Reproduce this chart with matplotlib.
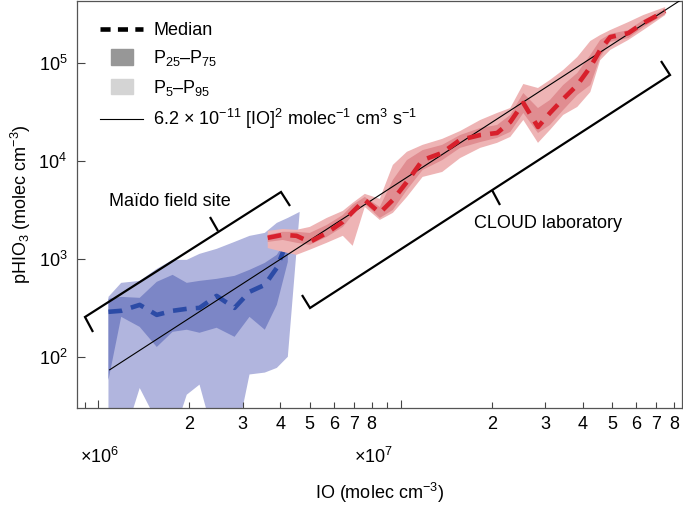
import numpy as np
import matplotlib
matplotlib.use("Agg")
import matplotlib.pyplot as plt
import matplotlib.patches as mpatches
from matplotlib.lines import Line2D
from matplotlib.legend_handler import HandlerPatch

plt.rcParams['font.family'] = ['Liberation Sans', 'DejaVu Sans']
plt.rcParams['mathtext.fontset'] = 'custom'
plt.rcParams['mathtext.rm'] = 'Liberation Sans'
plt.rcParams['mathtext.it'] = 'Liberation Sans:italic'
plt.rcParams['mathtext.bf'] = 'Liberation Sans:bold'
plt.rcParams['font.size'] = 13

# Maido field site (IO in molec cm-3, pHIO3 in molec cm-3 s-1)
io_maido = [1.08e6, 1.19e6, 1.37e6, 1.56e6, 1.76e6, 1.96e6, 2.16e6,
            2.46e6, 2.82e6, 3.16e6, 3.55e6, 3.89e6, 4.23e6, 4.63e6]
maido_med = [288, 295, 339, 268, 295, 309, 316, 419, 316, 461, 543, 810, 1563]
maido_p25 = [58, 256, 202, 126, 180, 189, 176, 198, 160, 256, 189, 339, 932]
maido_p75 = [391, 409, 400, 583, 687, 569, 596, 625, 671, 772, 910, 1099, 1638]
maido_p5 = [12, 12, 48, 22, 15, 41, 52, 12, 12, 66, 69, 77, 100]
maido_p95 = [409, 569, 596, 791, 977, 977, 1125, 1265, 1491, 1717, 1842,
             2330, 2620, 3018]

# CLOUD chamber
io_cloud = [3.63e6, 4.07e6, 4.52e6, 5.00e6, 5.69e6, 6.43e6, 6.93e6, 7.60e6,
            8.52e6, 9.41e6, 1.047e7, 1.18e7, 1.37e7, 1.57e7, 1.83e7, 2.08e7,
            2.30e7, 2.54e7, 2.84e7, 3.11e7, 3.44e7, 3.83e7, 4.23e7, 4.56e7,
            4.92e7, 5.65e7, 6.33e7, 7.48e7]
cloud_med = [1.64e3, 1.76e3, 1.72e3, 1.49e3, 1.84e3, 2.39e3, 3.02e3, 4.00e3,
             2.95e3, 4.00e3, 6.11e3, 1.02e4, 1.21e4, 1.64e4, 1.84e4, 1.93e4,
             2.50e4, 3.91e4, 2.22e4, 3.09e4, 4.29e4, 5.96e4, 9.10e4, 1.36e5,
             1.84e5, 2.02e5, 2.56e5, 3.39e5]
cloud_p5 = [1.29e3, 1.18e3, 1.10e3, 1.24e3, 1.46e3, 1.72e3, 1.36e3, 3.39e3,
            2.50e3, 2.95e3, 4.29e3, 6.87e3, 7.72e3, 1.07e4, 1.36e4, 1.53e4,
            1.76e4, 2.62e4, 1.53e4, 2.07e4, 2.95e4, 3.56e4, 5.06e4, 1.07e5,
            1.36e5, 1.72e5, 2.17e5, 3.09e5]
cloud_p25 = [1.49e3, 1.56e3, 1.46e3, 1.39e3, 1.68e3, 2.12e3, 2.81e3, 3.64e3,
             2.62e3, 3.16e3, 5.06e3, 8.09e3, 1.02e4, 1.36e4, 1.56e4, 1.72e4,
             1.98e4, 3.09e4, 1.93e4, 2.33e4, 3.31e4, 4.72e4, 5.96e4, 1.15e5,
             1.64e5, 1.80e5, 2.33e5, 3.16e5]
cloud_p75 = [1.76e3, 1.89e3, 1.89e3, 1.84e3, 2.22e3, 2.81e3, 3.56e3, 4.29e3,
             3.39e3, 6.40e3, 1.02e4, 1.29e4, 1.46e4, 1.84e4, 2.17e4, 2.33e4,
             2.95e4, 4.94e4, 3.47e4, 4.19e4, 5.96e4, 7.91e4, 1.21e5, 1.72e5,
             1.98e5, 2.17e5, 2.75e5, 3.56e5]
cloud_p95 = [1.93e3, 2.02e3, 1.98e3, 2.12e3, 2.62e3, 3.09e3, 3.73e3, 4.61e3,
             4.10e3, 9.11e3, 1.24e4, 1.46e4, 1.68e4, 2.02e4, 2.62e4, 3.09e4,
             3.47e4, 6.11e4, 5.56e4, 6.71e4, 8.48e4, 1.15e5, 1.68e5, 1.93e5,
             2.17e5, 2.62e5, 3.09e5, 3.73e5]

# fit line 6.2e-11 [IO]^2
fit_k = 6.2e-11
fit_io = [1.09e6, 1.0e8]

xtick_minor = [9e5, 2e6, 3e6, 4e6, 5e6, 6e6, 7e6, 8e6, 9e6,
               2e7, 3e7, 4e7, 5e7, 6e7, 7e7, 8e7]
xtick_minor_labels = ['', '2', '3', '4', '5', '6', '7', '8', '',
                      '2', '3', '4', '5', '6', '7', '8']

blue_light = '#b1b5de'
blue_dark = '#7c86c6'
blue_line = '#2c4ba6'
red_light = '#eeb4b5'
red_dark = '#e08d91'
red_line = '#d8202c'


def band(ax, x_hi, y_hi, x_lo, y_lo, color, z):
    xs = list(x_hi) + list(x_lo)[::-1]
    ys = list(y_hi) + list(y_lo)[::-1]
    ax.fill(xs, ys, color=color, lw=0, zorder=z)


fig = plt.figure(figsize=(6.83, 5.07), dpi=100)
ax = fig.add_axes([77 / 683, 99 / 507, 605 / 683, 407 / 507])
ax.set_xscale('log')
ax.set_yscale('log')

n = len(maido_med)
band(ax, io_maido, maido_p95, io_maido[:n], maido_p5, blue_light, 1)
band(ax, io_maido[:n], maido_p75, io_maido[:n], maido_p25, blue_dark, 2)
ax.plot(io_maido[:n], maido_med, color=blue_line, lw=3.3, dashes=(3, 2), zorder=3)

band(ax, io_cloud, cloud_p95, io_cloud, cloud_p5, red_light, 4)
band(ax, io_cloud, cloud_p75, io_cloud, cloud_p25, red_dark, 5)

fit_x = np.array(fit_io)
ax.plot(fit_x, fit_k * fit_x ** 2, color='black', lw=0.8, zorder=6)
ax.plot(io_cloud, cloud_med, color=red_line, lw=3.3, dashes=(3, 2), zorder=7)

ax.set_xlim(8.5e5, 8.5e7)
ax.set_ylim(30, 4.3e5)

ax.set_xticks([1e6, 1e7], ['', ''])
ax.set_xticks(xtick_minor, xtick_minor_labels, minor=True)
ax.set_yticks([1e2, 1e3, 1e4, 1e5])
ax.yaxis.set_minor_locator(matplotlib.ticker.NullLocator())
ax.tick_params(axis='both', which='major', direction='in', length=6,
               width=0.8, labelsize=13, color='#444444')
ax.tick_params(axis='x', which='minor', direction='in', length=4,
               width=0.8, labelsize=13, pad=6, color='#444444')
ax.tick_params(axis='y', which='major', pad=7)
for sp in ax.spines.values():
    sp.set_color('#555555')
    sp.set_linewidth(0.9)

ax.text(0.005, -0.12, r'$\times10^{6}$', transform=ax.transAxes,
        ha='left', va='center', fontsize=13)
ax.text(0.458, -0.12, r'$\times10^{7}$', transform=ax.transAxes,
        ha='left', va='center', fontsize=13)
ax.set_xlabel(r'IO (molec cm$^{-3}$)', fontsize=13, labelpad=34)
ax.set_ylabel(r'pHIO$_3$ (molec cm$^{-3}$)', fontsize=13, labelpad=4)


# brackets (axes fraction coords)
def fx(px):
    return (px - 77) / 605


def fy(py):
    return (408 - py) / 407


bk = dict(color='black', lw=1.6, transform=ax.transAxes, zorder=8,
          solid_capstyle='butt', solid_joinstyle='miter', clip_on=False)
ax.plot([fx(93), fx(85), fx(281), fx(290)], [fy(332), fy(317), fy(192), fy(206)], **bk)
ax.plot([fx(218), fx(210)], [fy(231), fy(217)], **bk)
ax.text(fx(170), fy(201), 'Maïdo field site', transform=ax.transAxes,
        ha='center', va='center', fontsize=13)

ax.plot([fx(302), fx(310), fx(670), fx(661)], [fy(295), fy(308), fy(75), fy(61)], **bk)
ax.plot([fx(492), fx(500)], [fy(190), fy(205)], **bk)
ax.text(fx(548), fy(223), 'CLOUD laboratory', transform=ax.transAxes,
        ha='center', va='center', fontsize=13)


def small_patch(legend, orig_handle, xdescent, ydescent, width, height, fontsize):
    return mpatches.Rectangle((-xdescent + 0.25 * width, -ydescent - 0.1 * height),
                              0.5 * width, 1.2 * height)


handles = [
    Line2D([], [], color='black', lw=3.3, dashes=(2.2, 1.6)),
    mpatches.Patch(color='#979797'),
    mpatches.Patch(color='#d4d4d4'),
    Line2D([], [], color='black', lw=0.8),
]
labels = [
    'Median',
    r'P$_{25}$–P$_{75}$',
    r'P$_{5}$–P$_{95}$',
    r'6.2 × 10$^{-11}$ [IO]$^{2}$ molec$^{-1}$ cm$^{3}$ s$^{-1}$',
]
ax.legend(handles, labels, loc='upper left', bbox_to_anchor=(fx(100), fy(22)),
          frameon=False, borderpad=0, borderaxespad=0, handlelength=2.4,
          handletextpad=0.55, labelspacing=0.52, fontsize=13,
          handler_map={mpatches.Patch: HandlerPatch(patch_func=small_patch)})

fig.savefig('out.png', dpi=100)
